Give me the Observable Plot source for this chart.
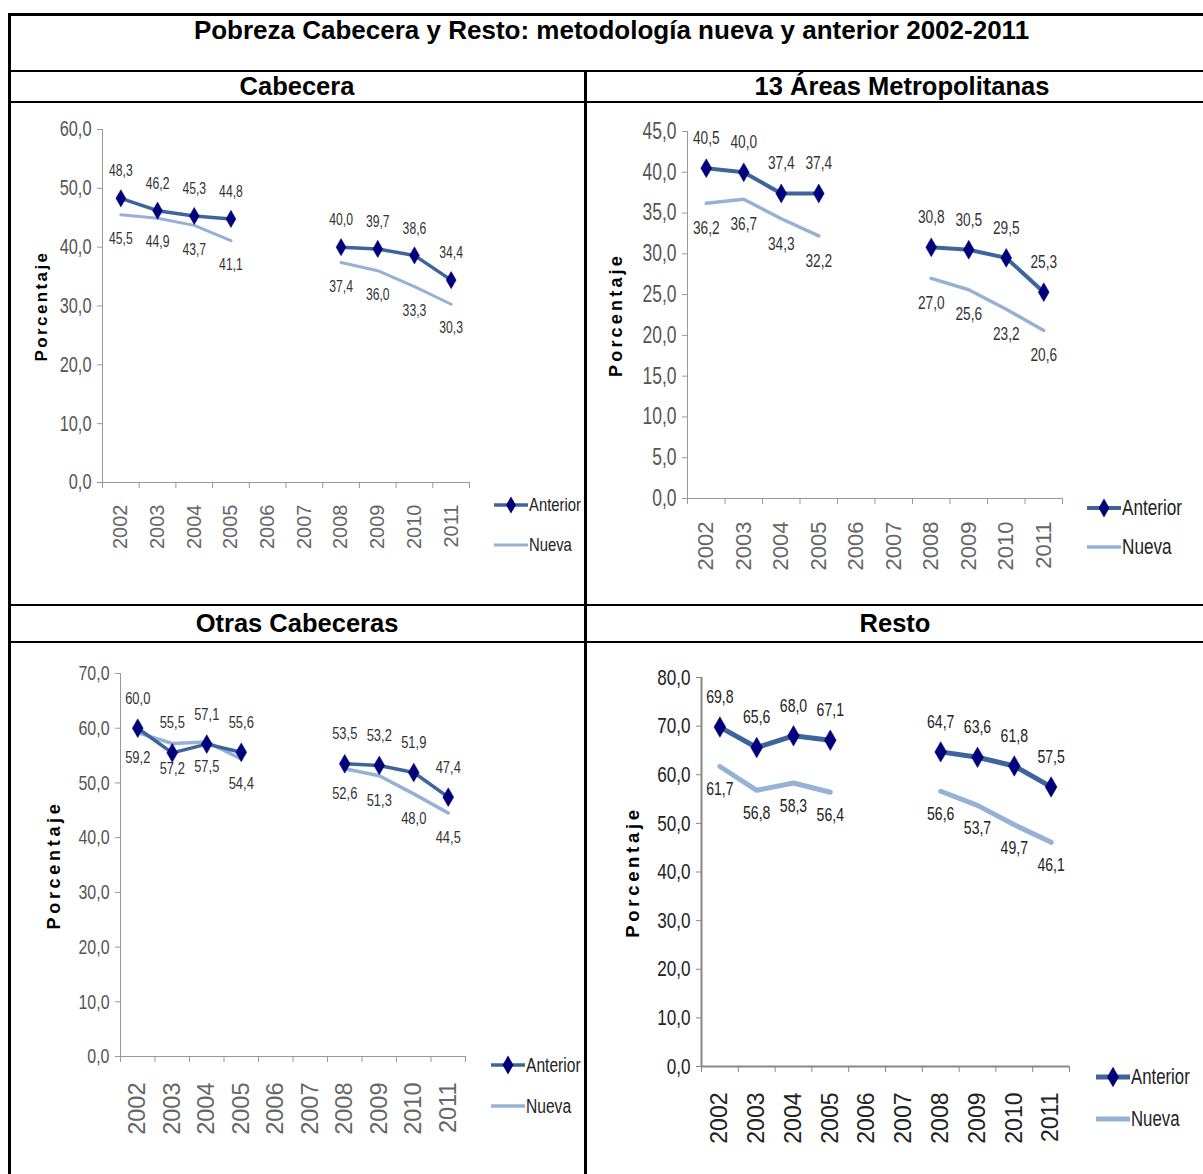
<!DOCTYPE html>
<html><head><meta charset="utf-8">
<script src="https://cdn.jsdelivr.net/npm/d3@7"></script>
<script src="https://cdn.jsdelivr.net/npm/@observablehq/plot@0.6"></script>
<style>
body{margin:0;background:#fff;}
#page{position:relative;width:1203px;height:1174px;overflow:hidden;background:#fff;font-family:"Liberation Sans",Arial,sans-serif;}
.ln{position:absolute;background:#000;}
.hdr{position:absolute;font-weight:bold;text-align:center;color:#000;white-space:nowrap;}
.panel{position:absolute;}
.panel svg{overflow:visible;}
.legend{position:absolute;overflow:visible;font-family:"Liberation Sans",Arial,sans-serif;color:#222;}
.legend div{position:absolute;left:0;white-space:nowrap;display:flex;align-items:center;}
.legend span{display:inline-block;transform:scaleX(0.78);transform-origin:0 50%;}
</style></head><body><div id="page"></div>
<script>
// ---- data ----
const years = [2002, 2003, 2004, 2005, 2006, 2007, 2008, 2009, 2010, 2011];
const seriesNames = ["Anterior", "Nueva"];
const mainTitle = "Pobreza Cabecera y Resto: metodología nueva y anterior 2002-2011";
const panelTitles = ["Cabecera", "13 Áreas Metropolitanas", "Otras Cabeceras", "Resto"];
const yAxisLabel = "Porcentaje";

const cabeceraAnterior = [48.3, 46.2, 45.3, 44.8, null, null, 40.0, 39.7, 38.6, 34.4];
const cabeceraNueva    = [45.5, 44.9, 43.7, 41.1, null, null, 37.4, 36.0, 33.3, 30.3];
const areasAnterior    = [40.5, 40.0, 37.4, 37.4, null, null, 30.8, 30.5, 29.5, 25.3];
const areasNueva       = [36.2, 36.7, 34.3, 32.2, null, null, 27.0, 25.6, 23.2, 20.6];
const otrasAnterior    = [60.0, 55.5, 57.1, 55.6, null, null, 53.5, 53.2, 51.9, 47.4];
const otrasNueva       = [59.2, 57.2, 57.5, 54.4, null, null, 52.6, 51.3, 48.0, 44.5];
const restoAnterior    = [69.8, 65.6, 68.0, 67.1, null, null, 64.7, 63.6, 61.8, 57.5];
const restoNueva       = [61.7, 56.8, 58.3, 56.4, null, null, 56.6, 53.7, 49.7, 46.1];

const cabeceraTicks = [0, 10, 20, 30, 40, 50, 60];
const areasTicks    = [0, 5, 10, 15, 20, 25, 30, 35, 40, 45];
const otrasTicks    = [0, 10, 20, 30, 40, 50, 60, 70];
const restoTicks    = [0, 10, 20, 30, 40, 50, 60, 70, 80];

// ---- styling / layout ----
const NARROW = 'Liberation Sans Narrow, Liberation Sans, Arial, sans-serif';
const REG = '"Liberation Sans",Arial,sans-serif';
const NARROW_FACTOR = 0.76;
const colAnterior = "#3d659c";
const colMarker = "#00007a";
const colNueva = "#97b1d6";
const fmt = v => v.toFixed(1).replace(".", ",");

const page = document.getElementById("page");
function box(cls, css, text) {
  const d = document.createElement("div");
  d.className = cls;
  Object.assign(d.style, css);
  if (text != null) d.textContent = text;
  page.appendChild(d);
  return d;
}

// table lines
box("ln", {left:"8px", top:"13px", width:"1195px", height:"2.5px"});
box("ln", {left:"8px", top:"13px", width:"2.5px", height:"1161px"});
box("ln", {left:"8px", top:"69.5px", width:"1195px", height:"2.5px"});
box("ln", {left:"8px", top:"100.5px", width:"1195px", height:"2.5px"});
box("ln", {left:"584px", top:"69.5px", width:"2.5px", height:"1105px"});
box("ln", {left:"8px", top:"603.5px", width:"1195px", height:"2.5px"});
box("ln", {left:"8px", top:"640.5px", width:"1195px", height:"2.5px"});

box("hdr", {left:"10px", width:"1203px", top:"15px", fontSize:"26px", lineHeight:"30px"}, mainTitle);
box("hdr", {left:"10px", width:"574px", top:"72px", fontSize:"25.5px", lineHeight:"29px"}, panelTitles[0]);
box("hdr", {left:"587px", width:"630px", top:"72px", fontSize:"25.5px", lineHeight:"29px"}, panelTitles[1]);
box("hdr", {left:"10px", width:"574px", top:"606px", fontSize:"25.5px", lineHeight:"34px"}, panelTitles[2]);
box("hdr", {left:"587px", width:"616px", top:"606px", fontSize:"25.5px", lineHeight:"34px"}, panelTitles[3]);

const panels = [
  {anterior: cabeceraAnterior, nueva: cabeceraNueva, ticks: cabeceraTicks,
   cell: {l: 10, t: 103, w: 574, h: 501}, frame: {l: 102, r: 469, t: 129, b: 482},
   tickFs: 21.5, yearFs: 20, yearPad: 22, labelFs: 16, yLabelFs: 17, yLabelLs: 2.4, yLabelOff: 68, dyA: -27, dyN: 24,
   tickColor: "#555", yearColor: "#666", labelColor: "#333", axisColor: "#999", axisW: 1,
   lineW: 3.5, nuevaW: 3, r: 5.2,
   legend: {l: 494, t: 490, fs: 19, gap: 40}},
  {anterior: areasAnterior, nueva: areasNueva, ticks: areasTicks,
   cell: {l: 587, t: 103, w: 616, h: 501}, frame: {l: 687, r: 1062, t: 131, b: 498},
   tickFs: 23, yearFs: 22, yearPad: 23, labelFs: 18, yLabelFs: 18, yLabelLs: 3.2, yLabelOff: 78, dyA: -30, dyN: 25,
   tickColor: "#555", yearColor: "#666", labelColor: "#333", axisColor: "#999", axisW: 1,
   lineW: 4, nuevaW: 3.5, r: 5.7,
   legend: {l: 1087, t: 493, fs: 22, gap: 39}},
  {anterior: otrasAnterior, nueva: otrasNueva, ticks: otrasTicks,
   cell: {l: 10, t: 643, w: 574, h: 531}, frame: {l: 120, r: 465, t: 673, b: 1056},
   tickFs: 21, yearFs: 23.5, yearPad: 26, labelFs: 17, yLabelFs: 18, yLabelLs: 3.7, yLabelOff: 73, dyA: -30, dyN: 25,
   tickColor: "#555", yearColor: "#666", labelColor: "#333", axisColor: "#999", axisW: 1,
   lineW: 3.5, nuevaW: 3.5, r: 5.7,
   legend: {l: 491, t: 1050, fs: 20, gap: 41}},
  {anterior: restoAnterior, nueva: restoNueva, ticks: restoTicks,
   cell: {l: 587, t: 643, w: 616, h: 531}, frame: {l: 701, r: 1069, t: 677, b: 1066},
   tickFs: 22.5, yearFs: 23, yearPad: 26, labelFs: 18.5, yLabelFs: 18.5, yLabelLs: 3.7, yLabelOff: 76, dyA: -30, dyN: 23,
   tickColor: "#222", yearColor: "#222", labelColor: "#222", axisColor: "#888", axisW: 2,
   lineW: 5, nuevaW: 5, r: 6.2,
   legend: {l: 1096, t: 1062, fs: 21.5, gap: 42}}
];

const boundaries = d3.range(years.length + 1).map(i => years[0] - 0.5 + i);

panels.forEach(p => {
  const rows = years.map((year, i) => ({year, anterior: p.anterior[i], nueva: p.nueva[i]}));
  const rowsA = rows.filter(d => d.anterior != null);
  const rowsN = rows.filter(d => d.nueva != null);
  const yMax = p.ticks[p.ticks.length - 1];
  const c = p.cell, f = p.frame;
  const chart = Plot.plot({
    width: c.w, height: c.h,
    marginLeft: f.l - c.l, marginRight: c.l + c.w - f.r,
    marginTop: f.t - c.t, marginBottom: c.t + c.h - f.b,
    style: {fontFamily: REG, background: "transparent", overflow: "visible"},
    x: {type: "linear", domain: [boundaries[0], boundaries[boundaries.length - 1]]},
    y: {domain: [0, yMax]},
    marks: [
      Plot.ruleX([boundaries[0]], {stroke: p.axisColor, strokeWidth: p.axisW}),
      Plot.ruleY([0], {stroke: p.axisColor, strokeWidth: p.axisW}),
      Plot.axisY({ticks: p.ticks, tickFormat: fmt, tickSize: 5, tickPadding: 6, stroke: p.axisColor,
        fontSize: p.tickFs, fill: p.tickColor, fontFamily: NARROW, label: null}),
      Plot.axisX({ticks: boundaries, tickFormat: () => "", tickSize: 6, stroke: p.axisColor, label: null}),
      Plot.axisX({ticks: years, tickFormat: d => String(d), tickSize: 0, tickPadding: p.yearPad, tickRotate: -90,
        fontSize: p.yearFs, fill: p.yearColor, fontFamily: REG, label: null}),
      Plot.text([yAxisLabel], {text: d => d, frameAnchor: "left", textAnchor: "middle", rotate: -90, lineAnchor: "top",
        dx: -p.yLabelOff, fontWeight: "bold", fontSize: p.yLabelFs, fontFamily: REG, fill: "#000"}),
      Plot.line(rows, {x: "year", y: "nueva", stroke: colNueva, strokeWidth: p.nuevaW}),
      Plot.line(rows, {x: "year", y: "anterior", stroke: colAnterior, strokeWidth: p.lineW}),
      Plot.dot(rowsA, {x: "year", y: "anterior", symbol: "diamond", fill: colMarker, stroke: colMarker, strokeWidth: 0.5, r: p.r}),
      Plot.text(rowsA, {x: "year", y: "anterior", text: d => fmt(d.anterior), dy: p.dyA,
        fontSize: p.labelFs, fill: p.labelColor, fontFamily: NARROW}),
      Plot.text(rowsN, {x: "year", y: "nueva", text: d => fmt(d.nueva), dy: p.dyN,
        fontSize: p.labelFs, fill: p.labelColor, fontFamily: NARROW})
    ]
  });
  const holder = box("panel", {left: c.l + "px", top: c.t + "px", width: c.w + "px", height: c.h + "px"});
  holder.appendChild(chart);
  chart.querySelectorAll("text").forEach(t => {
    if (t.textContent === yAxisLabel) t.setAttribute("letter-spacing", p.yLabelLs + "px");
  });
  // condense the narrow-font texts (Arial Narrow look)
  chart.querySelectorAll("g[font-family]").forEach(g => {
    if (!g.getAttribute("font-family").includes("Narrow")) return;
    g.querySelectorAll("text").forEach(t => {
      const len = t.getComputedTextLength();
      if (len > 0) {
        t.setAttribute("textLength", (len * NARROW_FACTOR).toFixed(2));
        t.setAttribute("lengthAdjust", "spacingAndGlyphs");
      }
    });
  });

  // legend
  const L = p.legend;
  const leg = box("legend", {left: L.l + "px", top: L.t + "px", width: "100px", height: (L.gap + 32) + "px", fontSize: L.fs + "px"});
  seriesNames.forEach((name, i) => {
    const row = document.createElement("div");
    row.style.top = (i * L.gap) + "px";
    row.style.height = "30px";
    const isA = i === 0;
    const sw = 34;
    const svg = d3.create("svg").attr("width", sw).attr("height", 30);
    svg.append("line").attr("x1", 0).attr("x2", sw).attr("y1", 15).attr("y2", 15)
      .attr("stroke", isA ? colAnterior : colNueva).attr("stroke-width", isA ? p.lineW : p.nuevaW);
    if (isA) svg.append("path").attr("d", d3.symbol(d3.symbolDiamond, Math.PI * p.r * p.r)())
      .attr("transform", "translate(17,15)").attr("fill", colMarker);
    row.appendChild(svg.node());
    const sp = document.createElement("span");
    sp.textContent = name;
    sp.style.marginLeft = "1px";
    row.appendChild(sp);
    leg.appendChild(row);
  });
});
</script>
</body></html>
